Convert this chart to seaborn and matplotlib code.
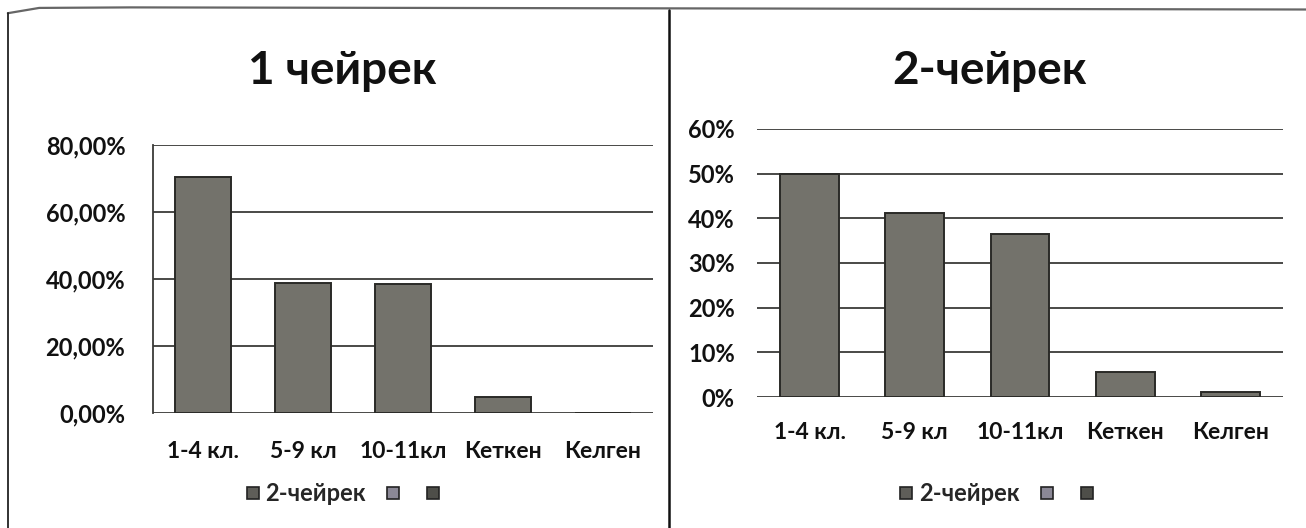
import matplotlib
matplotlib.use("Agg")
import matplotlib.pyplot as plt
import matplotlib.lines as mlines
import seaborn as sns
import pandas as pd

# data
categories = ["1-4 кл.", "5-9 кл", "10-11кл", "Кеткен", "Келген"]
q1_values = [0.705, 0.387, 0.384, 0.049, 0.0]
q2_values = [0.50, 0.413, 0.366, 0.056, 0.011]

q1_title = "1 чейрек"
q2_title = "2-чейрек"
series_name = "2-чейрек"

q1_ticks = [0.0, 0.2, 0.4, 0.6, 0.8]
q1_ticklabels = ["0,00%", "20,00%", "40,00%", "60,00%", "80,00%"]
q2_ticks = [0.0, 0.1, 0.2, 0.3, 0.4, 0.5, 0.6]
q2_ticklabels = ["0%", "10%", "20%", "30%", "40%", "50%", "60%"]

legend_colors = ["#5f5e59", "#8b8896", "#4e4e49"]

sns.set_style("white")
plt.rcParams['font.family'] = ['Lato', 'DejaVu Sans']

BAR = "#73726b"
EDGE = "#2a2a27"
GRID = "#3a3a38"
TXT = "#111111"

fig = plt.figure(figsize=(13.06, 5.28), dpi=100)
fig.patch.set_facecolor("white")


def draw_panel(ax, values, ticks, ticklabels, left_spine, xpad, ypad, leg_x, leg_y):
    df = pd.DataFrame({"cat": categories, "val": values})
    sns.barplot(data=df, x="cat", y="val", ax=ax, color=BAR, saturation=1,
                edgecolor=EDGE, linewidth=1.4, width=0.56, zorder=3)
    ax.set_ylim(ticks[0], ticks[-1])
    ax.set_xlim(-0.5, len(categories) - 0.5)
    ax.set_yticks(ticks)
    ax.set_yticklabels(ticklabels, fontsize=17, fontweight="bold", color=TXT)
    ax.tick_params(axis="x", labelsize=16.5, pad=xpad, length=0)
    ax.tick_params(axis="y", length=0, pad=ypad)
    for lab in ax.get_xticklabels():
        lab.set_fontweight("bold")
        lab.set_color(TXT)
    ax.set_xlabel("")
    ax.set_ylabel("")
    for t in ticks:
        ax.axhline(t, color=GRID, lw=1.3, zorder=1)
    for s in ["top", "right", "bottom", "left"]:
        ax.spines[s].set_visible(False)
    if left_spine:
        ax.spines["left"].set_visible(True)
        ax.spines["left"].set_color(GRID)
        ax.spines["left"].set_linewidth(1.3)
    ax.set_facecolor("none")
    handles = [mlines.Line2D([], [], marker="s", linestyle="none", markersize=9,
                             markerfacecolor=c, markeredgecolor="#222222",
                             markeredgewidth=1.2) for c in legend_colors]
    ax.legend(handles, [series_name, "", ""], loc="center",
              bbox_to_anchor=(leg_x, leg_y), ncol=3, frameon=False,
              handletextpad=0.0, columnspacing=0.6, handlelength=1.1,
              prop={"size": 17, "weight": "bold"})
    return ax


ax1 = fig.add_axes([0.1172, 0.2178, 0.3828, 0.5076])
draw_panel(ax1, q1_values, q1_ticks, q1_ticklabels, True, 20, 20, 0.38, -0.30)
ax2 = fig.add_axes([0.5796, 0.2481, 0.4028, 0.5076])
draw_panel(ax2, q2_values, q2_ticks, q2_ticklabels, False, 18, 16, 0.455, -0.36)

fig.text(0.262, 0.865, q1_title, ha="center", va="center", fontsize=33,
         fontweight="bold", color=TXT)
fig.text(0.758, 0.865, q2_title, ha="center", va="center", fontsize=33,
         fontweight="bold", color=TXT)

# frame lines of the scanned page
fig.add_artist(mlines.Line2D([0.006, 0.03, 0.1, 1.0], [0.975, 0.985, 0.986, 0.982],
                             transform=fig.transFigure, color="#666666", lw=1.6))
fig.add_artist(mlines.Line2D([0.006, 0.006], [0.0, 0.975],
                             transform=fig.transFigure, color="#222222", lw=1.3))
fig.add_artist(mlines.Line2D([0.512, 0.512], [0.0, 0.982],
                             transform=fig.transFigure, color="#111111", lw=1.8))

fig.savefig("out.png", dpi=100, facecolor="white")
